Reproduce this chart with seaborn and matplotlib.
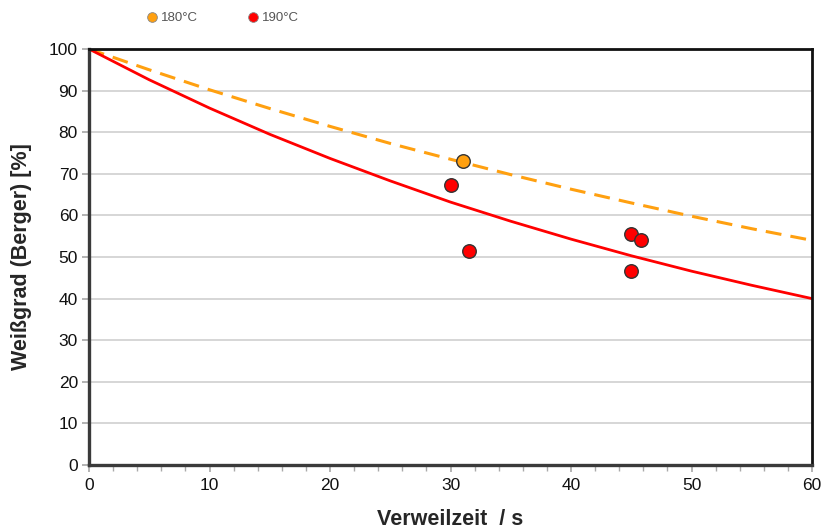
import matplotlib
matplotlib.use("Agg")
import matplotlib.pyplot as plt
from matplotlib.ticker import MultipleLocator
from matplotlib.lines import Line2D
import seaborn as sns
import pandas as pd

# Fitted curves
curve_t = [0, 5, 10, 15, 20, 25, 30, 35, 40, 45, 50, 55, 60]
curve_180 = [100, 95.0, 90.2, 85.7, 81.4, 77.3, 73.5, 69.8, 66.3, 63.0, 59.8, 56.8, 54.0]
curve_190 = [100, 92.6, 85.8, 79.5, 73.7, 68.3, 63.2, 58.6, 54.3, 50.3, 46.6, 43.2, 40.0]

# Measured points
pts_180_t = [31.0]
pts_180_w = [73.0]
pts_190_t = [30.0, 31.5, 45.0, 45.8, 45.0]
pts_190_w = [67.3, 51.5, 55.5, 54.0, 46.7]

labels = ["180°C", "190°C"]
c180 = "#FFA010"
c190 = "#FF0000"

sns.set_theme(style="white")
plt.rcParams['font.family'] = ['Liberation Sans', 'DejaVu Sans']

fig = plt.figure(figsize=(8.23, 5.29), dpi=100)
ax = fig.add_axes([89/823, 1-465/529, (812-89)/823, (465-49)/529])

curves = pd.DataFrame({
    "t": curve_t * 2,
    "w": curve_180 + curve_190,
    "s": [labels[0]] * len(curve_t) + [labels[1]] * len(curve_t),
})
sns.lineplot(data=curves[curves.s == labels[0]], x="t", y="w", color=c180,
             lw=2.2, ax=ax, legend=False)
ax.lines[-1].set_dashes((5.2, 3.0))
sns.lineplot(data=curves[curves.s == labels[1]], x="t", y="w", color=c190,
             lw=2.0, ax=ax, legend=False)

sns.scatterplot(x=pts_180_t, y=pts_180_w, color=c180, s=95, edgecolor="#333333",
                linewidth=1.0, ax=ax, zorder=5)
sns.scatterplot(x=pts_190_t, y=pts_190_w, color=c190, s=95, edgecolor="#333333",
                linewidth=1.0, ax=ax, zorder=5)

ax.set_xlim(0, 60)
ax.set_ylim(0, 100)
ax.xaxis.set_major_locator(MultipleLocator(10))
ax.xaxis.set_minor_locator(MultipleLocator(2))
ax.yaxis.set_major_locator(MultipleLocator(10))
ax.grid(axis="y", color="#d0d0d0", lw=1.2)
ax.grid(axis="x", visible=False)
ax.tick_params(axis="x", which="both", direction="out", bottom=True, length=4,
               color="#aaaaaa", labelsize=12.5, labelcolor="#111111", pad=4)
ax.tick_params(axis="x", which="major", length=5)
ax.tick_params(axis="y", which="major", direction="out", left=True, length=5,
               color="#aaaaaa", labelsize=12.5, labelcolor="#111111", pad=3)

for side in ["left", "bottom"]:
    ax.spines[side].set_color("#3a3a3a")
    ax.spines[side].set_linewidth(2.4)
for side in ["top", "right"]:
    ax.spines[side].set_color("#111111")
    ax.spines[side].set_linewidth(2.0)
    ax.spines[side].set_visible(True)

ax.set_xlabel("Verweilzeit  / s", fontsize=15.5, fontweight="bold", labelpad=12)
ax.set_ylabel("Weißgrad (Berger) [%]", fontsize=15.5, fontweight="bold", labelpad=12)

handles = [
    Line2D([], [], ls="none", marker="o", markersize=7, markerfacecolor=c180,
           markeredgecolor="#888888", markeredgewidth=0.6),
    Line2D([], [], ls="none", marker="o", markersize=7, markerfacecolor=c190,
           markeredgecolor="#888888", markeredgewidth=0.6),
]
leg = fig.legend(handles, labels, loc="center left", bbox_to_anchor=(139/823, 1-18/529),
                 ncol=2, frameon=False, fontsize=9.5, columnspacing=3.7,
                 handletextpad=0.15, handlelength=1.0, borderpad=0)
for t in leg.get_texts():
    t.set_color("#555555")

fig.savefig("out.png", dpi=100)
